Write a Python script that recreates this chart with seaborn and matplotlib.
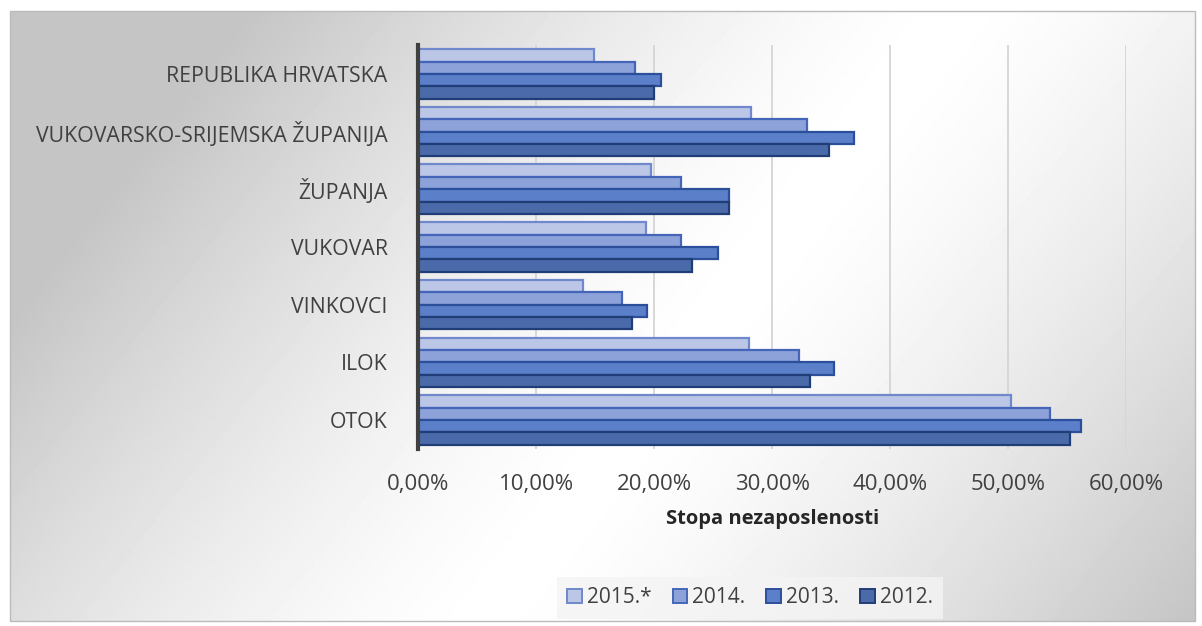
import numpy as np
import matplotlib
matplotlib.use("Agg")
import matplotlib.pyplot as plt
import pandas as pd
import seaborn as sns
from matplotlib.ticker import FuncFormatter

# data (unemployment rate, %)
regions = ["REPUBLIKA HRVATSKA", "VUKOVARSKO-SRIJEMSKA ŽUPANIJA", "ŽUPANJA",
           "VUKOVAR", "VINKOVCI", "ILOK", "OTOK"]
years = ["2015.*", "2014.", "2013.", "2012."]
v2015 = [14.9, 28.2, 19.7, 19.3, 14.0, 28.0, 50.2]
v2014 = [18.4, 32.9, 22.3, 22.3, 17.3, 32.3, 53.5]
v2013 = [20.6, 36.9, 26.3, 25.4, 19.4, 35.2, 56.2]
v2012 = [20.0, 34.8, 26.3, 23.2, 18.1, 33.2, 55.2]

df = pd.DataFrame({"region": regions * 4,
                   "year": [y for y in years for _ in regions],
                   "rate": v2015 + v2014 + v2013 + v2012})

face = ["#BCC7E8", "#8EA2DA", "#5B80C9", "#4B6AA9"]
edge = ["#7088CC", "#4566B8", "#2C4F9C", "#213D78"]

sns.set_style("white")
plt.rcParams["font.family"] = ["Open Sans", "DejaVu Sans"]

fig = plt.figure(figsize=(12.02, 6.26), dpi=100)

# gradient background panel: white diagonal band, grey towards left and lower right
bg = fig.add_axes([0.008, 0.008, 0.986, 0.975])
xx, yy = np.meshgrid(np.linspace(0, 1, 300), np.linspace(0, 1, 200))
centre = 0.8 - 0.4 * yy
d = np.abs(xx - centre)
g = 1.0 - 0.23 * np.clip(d / 0.6, 0, 1) ** 1.4
bg.imshow(g, cmap="gray", vmin=0, vmax=1, aspect="auto", extent=[0, 1, 1, 0])
bg.set_axis_off()
fig.patches.append(plt.Rectangle((0.008, 0.008), 0.986, 0.975, transform=fig.transFigure,
                                 fill=False, edgecolor="#BBBBBB", lw=1))

ax = fig.add_axes([0.348, 0.283, 0.589, 0.645])
ax.set_facecolor("none")
sns.barplot(data=df, x="rate", y="region", hue="year", order=regions, hue_order=years,
            palette=face, orient="h", width=0.86, ax=ax, saturation=1, legend=True)

for i, cont in enumerate(ax.containers):
    for p in cont.patches:
        p.set_edgecolor(edge[i])
        p.set_linewidth(1.6)

ax.set_xlim(0, 60)
ax.set_xticks(np.arange(0, 61, 10))
ax.xaxis.set_major_formatter(FuncFormatter(lambda v, _: f"{v:.2f}%".replace(".", ",")))
ax.grid(axis="x", color="#D5D5D5", lw=1.3)
ax.set_axisbelow(True)
for s in ["top", "right", "bottom"]:
    ax.spines[s].set_visible(False)
ax.spines["left"].set_color("#404040")
ax.spines["left"].set_linewidth(3)
ax.tick_params(axis="x", labelsize=16, colors="#404040", length=0, pad=18)
ax.tick_params(axis="y", labelsize=15.3, colors="#404040", length=0, pad=22)
ax.set_ylabel("")
ax.set_xlabel("Stopa nezaposlenosti", fontsize=14.5, fontweight="bold", color="#262626", labelpad=10)

handles, labels = ax.get_legend_handles_labels()
ax.legend_.remove()
leg = fig.legend(handles, labels, loc="center", bbox_to_anchor=(0.624, 0.045), ncol=4,
                 frameon=True, fontsize=15, handlelength=0.7, handleheight=0.7,
                 columnspacing=1.0, handletextpad=0.25, borderpad=0.5)
leg.get_frame().set_facecolor("#F4F4F4")
leg.get_frame().set_edgecolor("none")
leg.get_frame().set_boxstyle("square", pad=0)
for t in leg.get_texts():
    t.set_color("#404040")
for h, e in zip(leg.legend_handles, edge):
    h.set_edgecolor(e)
    h.set_linewidth(1.4)

fig.savefig("out.png", dpi=100)
